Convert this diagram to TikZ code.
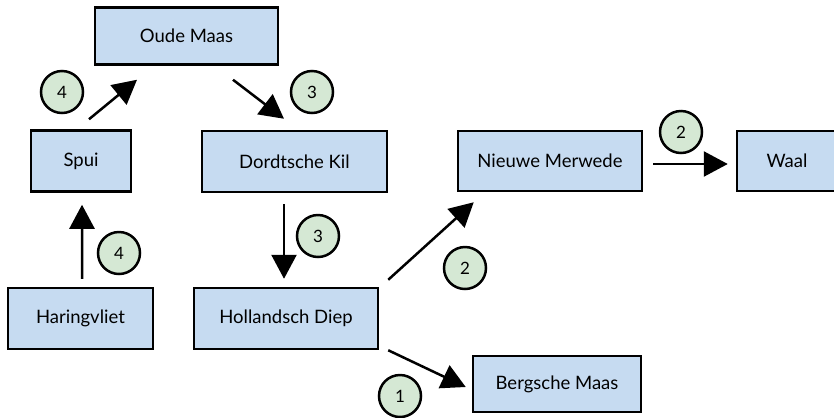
\documentclass[tikz,border=0pt]{standalone}
\usepackage{fontspec}
\setmainfont{Lato}
\usetikzlibrary{arrows.meta,calc}
\definecolor{boxblue}{HTML}{C6DBF1}
\definecolor{stepgreen}{HTML}{D5E8D4}
\tikzset{
  river/.style={draw=black, line width=2.5bp, fill=boxblue, inner sep=0pt,
    font=\fontsize{18.5bp}{22bp}\selectfont},
  stepnum/.style={circle, draw=black, line width=2.5bp, fill=stepgreen,
    minimum size=42bp, inner sep=0pt, font=\fontsize{17bp}{20bp}\selectfont},
  flow/.style={line width=2.5bp, -{Triangle[length=24bp,width=25bp]}}
}
\begin{document}
\begin{tikzpicture}[x=1bp,y=-1bp]
  \useasboundingbox (0,0) rectangle (834,417);
  \clip (0,0) rectangle (834,417);
  \fill[white] (0,0) rectangle (834,417);

  % rivers
  \node[river, minimum width=183bp, minimum height=57bp] (oude) at (186.5,36) {Oude Maas};
  \node[river, minimum width=100bp, minimum height=61bp] (spui) at (81,161) {Spui};
  \node[river, minimum width=185bp, minimum height=61bp] (dord) at (294.5,161.5) {Dordtsche Kil};
  \node[river, minimum width=184bp, minimum height=60bp] (nieuwe) at (550,161) {Nieuwe Merwede};
  \node[river, minimum width=100bp, minimum height=60bp] (waal) at (787,161) {Waal};
  \node[river, minimum width=145bp, minimum height=61bp] (haring) at (80.5,318.5) {Haringvliet};
  \node[river, minimum width=184bp, minimum height=61bp] (holl) at (286,318.5) {Hollandsch Diep};
  \node[river, minimum width=168bp, minimum height=56bp] (berg) at (557,384) {Bergsche Maas};

  % flow connections
  \draw[flow] ($(spui.north)+(8,-10)$) -- ($(oude.south)+(-49.5,14)$);
  \draw[flow] ($(oude.south)+(46.5,14)$) -- ($(dord.north)+(-10.5,-11)$);
  \draw[flow] ($(dord.south)+(-10.5,11)$) -- ($(holl.north)+(-2,-8)$);
  \draw[flow] ($(haring.north)+(1.5,-8)$) -- ($(spui.south)+(1,12)$);
  \draw[flow] ($(holl.north east)+(9,-7)$) -- ($(nieuwe.south west)+(17,10)$);
  \draw[flow] ($(holl.south east)+(9,0)$) -- ($(berg.west)+(-6,3)$);
  \draw[flow] ($(nieuwe.east)+(10,3)$) -- ($(waal.west)+(-8,3)$);

  % step numbers
  \node[stepnum] (n4a) at (62,92) {4};
  \node[stepnum] (n3a) at (312,92) {3};
  \node[stepnum] (n2a) at (681,132) {2};
  \node[stepnum] (n4b) at (119,253) {4};
  \node[stepnum] (n3b) at (318,236) {3};
  \node[stepnum] (n2b) at (465,268) {2};
  \node[stepnum] (n1) at (400,396) {1};
\end{tikzpicture}
\end{document}
